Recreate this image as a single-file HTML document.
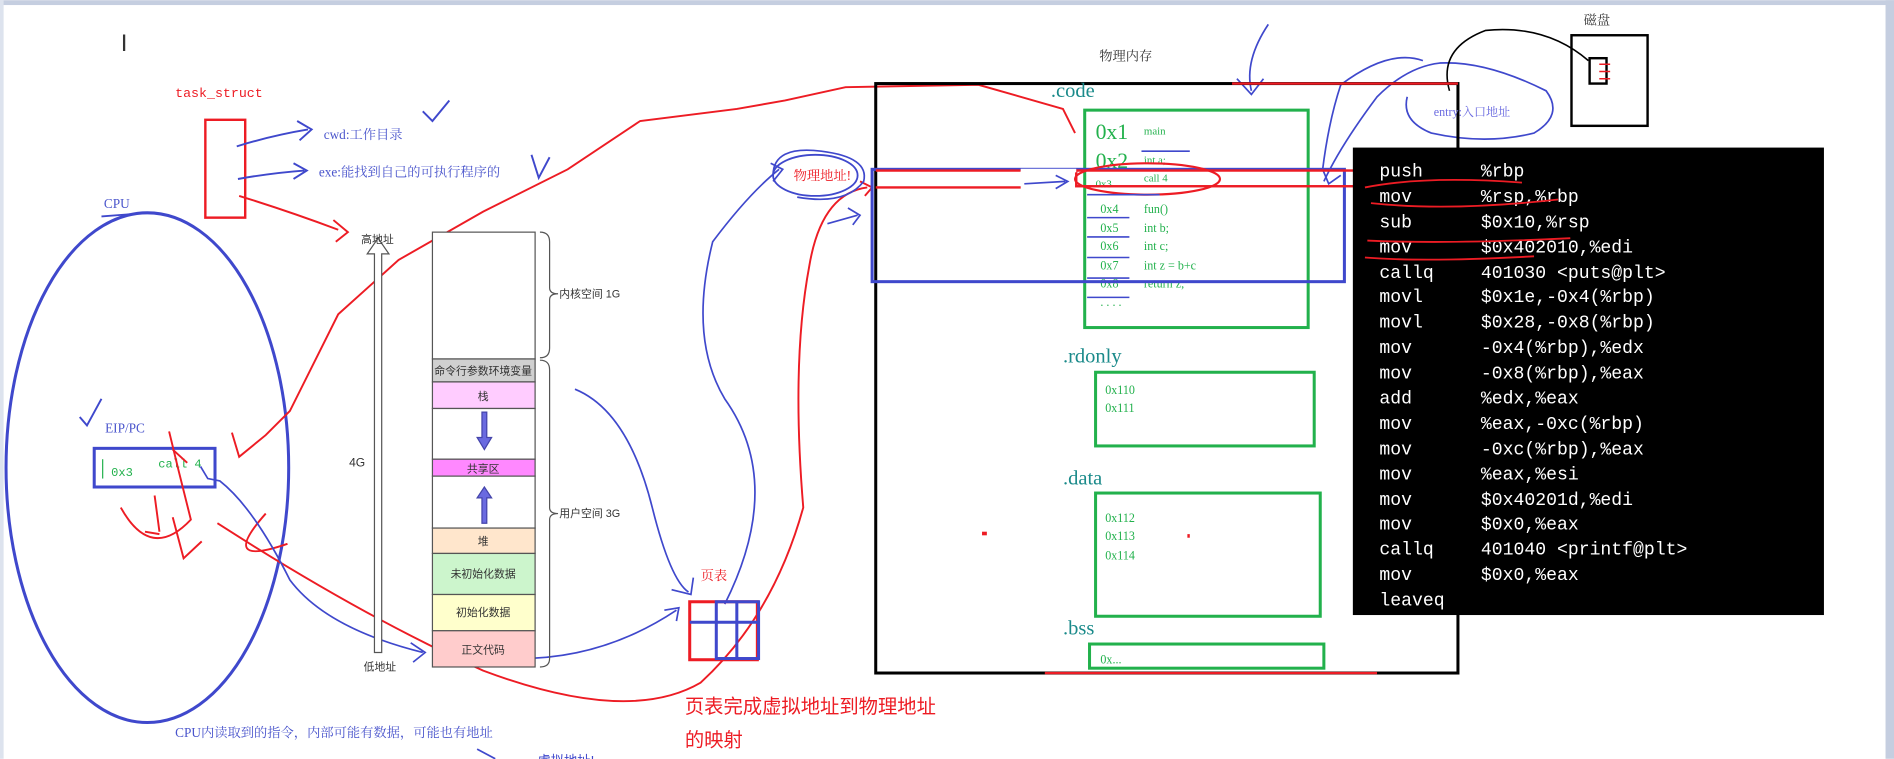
<!DOCTYPE html>
<html><head><meta charset="utf-8"><style>
html,body{margin:0;padding:0;background:#fff;overflow:hidden}
svg{display:block}
.m{font-family:"Liberation Mono","Noto Sans CJK SC",monospace}
.s{font-family:"Liberation Sans","Noto Sans CJK SC",sans-serif}
.sf{font-family:"Liberation Serif","Noto Serif CJK SC",serif}
</style></head><body>
<svg width="1894" height="759" viewBox="0 0 1568 628" xmlns="http://www.w3.org/2000/svg">
<rect width="1568" height="628" fill="#fff"/>
<rect width="1568" height="4" fill="#c5cee0"/>
<rect x="1561" y="0" width="7" height="628" fill="#c5cee0"/>
<rect x="0" y="0" width="3" height="628" fill="#dde3ee"/>
<text x="100" y="42" class="s" font-size="20" fill="#333">I</text>

<!-- task_struct -->
<text x="145" y="80" class="m" font-size="11" fill="#ed1c24">task_struct</text>
<rect x="170" y="99" width="33" height="81" fill="none" stroke="#ed1c24" stroke-width="2"/>
<g fill="none" stroke="#3f48cc" stroke-width="1.6">
<path d="M196 121 Q225 112 255 107 M246 100 L258 107 L248 116"/>
<path d="M197 148 Q225 143 252 141 M243 135 L254 141 L243 148"/>
<path d="M350 92 L358 100 L372 83 M440 128 L446 147 L455 130"/>
</g>
<text x="268" y="115" class="sf" font-size="11" fill="#4a55cc">cwd:工作目录</text>
<text x="264" y="146" class="sf" font-size="11" fill="#4a55cc">exe:能找到自己的可执行程序的</text>
<path d="M198 162 Q240 175 280 190 M276 182 L288 192 L278 200" fill="none" stroke="#ed1c24" stroke-width="1.6"/>

<!-- CPU -->
<text x="86" y="172" class="sf" font-size="11" fill="#4a55cc">CPU</text>
<line x1="84" y1="179" x2="110" y2="177" stroke="#3f48cc" stroke-width="1.5"/>
<ellipse cx="122" cy="387" rx="117" ry="211" fill="none" stroke="#3f48cc" stroke-width="2.5"/>
<text x="87" y="358" class="sf" font-size="11" fill="#4a55cc">EIP/PC</text>
<path d="M66 345 L72 352 L84 330" fill="none" stroke="#3f48cc" stroke-width="1.6"/>
<rect x="78" y="371" width="100" height="32" fill="none" stroke="#3f48cc" stroke-width="2.5"/>
<text x="92" y="394" class="m" font-size="10" fill="#22b14c">0x3</text>
<text x="131" y="387" class="m" font-size="10" fill="#22b14c">call 4</text>
<line x1="85" y1="380" x2="85" y2="396" stroke="#22b14c" stroke-width="1"/>
<g fill="none" stroke="#ed1c24" stroke-width="1.6">
<path d="M140 357 L148 390 L158 430 Q125 465 100 420"/>
<path d="M128 410 L132 440 M120 440 L132 442"/>
<path d="M143 372 L155 383 M167 448 L152 462 L143 428"/>
<path d="M220 425 Q180 470 238 450 M192 358 L198 378 L220 360 L240 340 L280 260 L330 215 L400 175 L470 140 L530 100 L610 90 L650 83 L700 72 L810 70 L880 90 L890 110"/>
<path d="M180 433 Q300 510 400 555 Q520 600 580 565 Q640 510 665 420 Q655 300 670 220 Q680 160 718 155 M712 150 L722 155 L716 162"/>
</g>
<g fill="none" stroke="#3f48cc" stroke-width="1.4">
<path d="M166 386 L172 396 L182 398 Q210 420 240 480 Q270 520 350 540 M340 532 L352 540 L342 548"/>
<path d="M430 545 Q500 545 560 505 M550 505 L562 503 L560 514"/>
<path d="M476 322 Q520 340 540 420 Q555 480 570 490 M556 488 L572 492 L574 478"/>
<path d="M600 500 Q650 400 600 330 Q570 280 590 200 Q620 160 645 140 M638 135 L648 140 L640 150"/>
<path d="M685 185 L710 178 M702 172 L712 178 L706 186"/>
<path d="M640 145 Q640 120 680 125 Q720 130 715 150 Q700 170 660 163"/>
<path d="M848 152 L882 150 M874 145 L884 150 L874 156"/>
<path d="M1050 20 Q1030 50 1036 75 M1024 65 L1036 78 L1046 65"/>
<path d="M1096 150 Q1110 120 1140 80 Q1165 55 1192 52 Q1230 50 1280 75 Q1295 95 1270 110 Q1230 120 1185 110 Q1160 100 1165 80"/>
<path d="M1178 50 Q1150 40 1110 70 Q1100 100 1095 140 L1100 152 L1110 145"/>
<path d="M395 620 L410 628"/>
</g>
<path d="M1200 75 Q1190 40 1230 25 Q1280 20 1315 50" fill="none" stroke="#000" stroke-width="1.3"/>

<!-- address space -->
<path d="M310 540 L310 210 L304 210 L313 197 L322 210 L316 210 L316 540 Z" fill="#fff" stroke="#555" stroke-width="1"/>
<text x="299" y="201" class="s" font-size="9" fill="#333">高地址</text>
<text x="301" y="555" class="s" font-size="9" fill="#333">低地址</text>
<text x="289" y="386" class="s" font-size="10" fill="#333">4G</text>
<g stroke="#555" stroke-width="1" class="s" font-size="9" text-anchor="middle" fill="#333">
<rect x="358" y="192" width="85" height="105" fill="#fff"/>
<rect x="358" y="297" width="85" height="19" fill="#d0d0d0"/><text x="400" y="310" stroke="none">命令行参数环境变量</text>
<rect x="358" y="316" width="85" height="22" fill="#ffccff"/><text x="400" y="331" stroke="none">栈</text>
<rect x="358" y="338" width="85" height="42" fill="#fff"/>
<rect x="358" y="380" width="85" height="14" fill="#ff88ff"/><text x="400" y="391" stroke="none">共享区</text>
<rect x="358" y="394" width="85" height="43" fill="#fff"/>
<rect x="358" y="437" width="85" height="21" fill="#ffe6cc"/><text x="400" y="451" stroke="none">堆</text>
<rect x="358" y="458" width="85" height="34" fill="#ccf5cc"/><text x="400" y="478" stroke="none">未初始化数据</text>
<rect x="358" y="492" width="85" height="30" fill="#ffffcc"/><text x="400" y="510" stroke="none">初始化数据</text>
<rect x="358" y="522" width="85" height="30" fill="#ffcccc"/><text x="400" y="541" stroke="none">正文代码</text>
</g>
<path d="M399 341 L399 362 L395 362 L401 372 L407 362 L403 362 L403 341 Z M399 433 L399 412 L395 412 L401 403 L407 412 L403 412 L403 433 Z" fill="#6a6ae0" stroke="#4444aa"/>
<g fill="none" stroke="#555" stroke-width="1">
<path d="M447 192 Q455 192 455 200 L455 238 Q455 243 462 243 Q455 243 455 248 L455 288 Q455 296 447 296"/>
<path d="M447 298 Q455 298 455 306 L455 420 Q455 425 462 425 Q455 425 455 430 L455 545 Q455 552 447 552"/>
</g>
<text x="463" y="246" class="s" font-size="9" fill="#333">内核空间 1G</text>
<text x="463" y="428" class="s" font-size="9" fill="#333">用户空间 3G</text>

<!-- page table -->
<text x="580" y="480" class="sf" font-size="11" fill="#ed1c24">页表</text>
<rect x="571" y="498" width="56" height="48" fill="none" stroke="#ed1c24" stroke-width="2.5"/>
<rect x="593" y="498" width="35" height="47" fill="none" stroke="#3f48cc" stroke-width="2.5"/>
<line x1="571" y1="515" x2="628" y2="515" stroke="#3f48cc" stroke-width="2.5"/>
<line x1="610" y1="498" x2="610" y2="545" stroke="#3f48cc" stroke-width="2.5"/>
<text x="567" y="590" class="s" font-size="16" fill="#ed1c24">页表完成虚拟地址到物理地址</text>
<text x="567" y="618" class="s" font-size="16" fill="#ed1c24">的映射</text>
<text x="145" y="610" class="sf" font-size="11" fill="#4a55cc">CPU内读取到的指令，内部可能有数据，可能也有地址</text>
<text x="445" y="633" class="s" font-size="11" fill="#3f48cc">虚拟地址!</text>

<!-- physical memory -->
<text x="910" y="50" class="sf" font-size="11" fill="#333">物理内存</text>
<rect x="725" y="69" width="482" height="488" fill="none" stroke="#000" stroke-width="2.5"/>
<line x1="1020" y1="69" x2="1207" y2="69" stroke="#ed1c24" stroke-width="2"/>
<line x1="865" y1="557" x2="1140" y2="557" stroke="#ed1c24" stroke-width="2"/>
<text x="870" y="80" class="sf" font-size="17" fill="#1a8a8a">.code</text>
<rect x="898" y="91" width="185" height="180" fill="none" stroke="#22b14c" stroke-width="2.5"/>
<g class="sf" fill="#22b14c">
<text x="907" y="115" font-size="18">0x1</text><text x="947" y="111" font-size="9">main</text>
<text x="907" y="139" font-size="18">0x2</text><text x="947" y="135" font-size="9">int a;</text>
<text x="907" y="155" font-size="9">0x3</text><text x="947" y="150" font-size="9">call 4</text>
<text x="911" y="176" font-size="10">0x4</text><text x="947" y="176" font-size="10">fun()</text>
<text x="911" y="192" font-size="10">0x5</text><text x="947" y="192" font-size="10">int b;</text>
<text x="911" y="207" font-size="10">0x6</text><text x="947" y="207" font-size="10">int c;</text>
<text x="911" y="223" font-size="10">0x7</text><text x="947" y="223" font-size="10">int z = b+c</text>
<text x="911" y="238" font-size="10">0x8</text><text x="947" y="238" font-size="10">return z;</text>
<text x="911" y="253" font-size="10">. . . .</text>
</g>
<text x="880" y="300" class="sf" font-size="17" fill="#1a8a8a">.rdonly</text>
<rect x="907" y="308" width="181" height="61" fill="none" stroke="#22b14c" stroke-width="2.5"/>
<text x="915" y="326" class="sf" font-size="10" fill="#22b14c">0x110</text>
<text x="915" y="341" class="sf" font-size="10" fill="#22b14c">0x111</text>
<text x="880" y="401" class="sf" font-size="17" fill="#1a8a8a">.data</text>
<rect x="907" y="408" width="186" height="102" fill="none" stroke="#22b14c" stroke-width="2.5"/>
<text x="915" y="432" class="sf" font-size="10" fill="#22b14c">0x112</text>
<text x="915" y="447" class="sf" font-size="10" fill="#22b14c">0x113</text>
<text x="915" y="463" class="sf" font-size="10" fill="#22b14c">0x114</text>
<text x="880" y="525" class="sf" font-size="17" fill="#1a8a8a">.bss</text>
<rect x="902" y="533" width="194" height="20" fill="none" stroke="#22b14c" stroke-width="2.5"/>
<text x="911" y="549" class="sf" font-size="10" fill="#22b14c">0x...</text>
<rect x="983" y="442" width="2" height="3" fill="#ed1c24"/>
<rect x="813" y="440" width="4" height="3" fill="#ed1c24"/>

<!-- mapping bars -->
<rect x="722" y="140" width="391" height="93" fill="none" stroke="#3f48cc" stroke-width="2.5"/>
<line x1="725" y1="141" x2="845" y2="141" stroke="#ed1c24" stroke-width="2"/>
<line x1="725" y1="155" x2="845" y2="155" stroke="#ed1c24" stroke-width="2"/>
<rect x="891" y="141" width="233" height="13" fill="none" stroke="#ed1c24" stroke-width="2"/>
<line x1="845" y1="141" x2="891" y2="141" stroke="#fff" stroke-width="3"/>
<ellipse cx="950" cy="148" rx="60" ry="13" fill="none" stroke="#ed1c24" stroke-width="1.8"/>
<ellipse cx="675" cy="145" rx="35" ry="17" fill="none" stroke="#3f48cc" stroke-width="1.5"/>
<text x="657" y="149" class="sf" font-size="11" fill="#ed1c24">物理地址!</text>
<g fill="none" stroke="#3f48cc" stroke-width="1.3">
<path d="M900 161 H960 M900 180 H935 M900 196 H935 M900 213 H935 M900 230 H935 M900 246 H935 M945 125 H985"/>
</g>

<!-- terminal -->
<rect x="1120" y="122" width="390" height="387" fill="#000"/>
<g class="m" font-size="15" fill="#fff">
<text x="1142" y="146">push</text><text x="1226" y="146">%rbp</text>
<text x="1142" y="167">mov</text><text x="1226" y="167">%rsp,%rbp</text>
<text x="1142" y="188">sub</text><text x="1226" y="188">$0x10,%rsp</text>
<text x="1142" y="209">mov</text><text x="1226" y="209">$0x402010,%edi</text>
<text x="1142" y="230">callq</text><text x="1226" y="230">401030 &lt;puts@plt&gt;</text>
<text x="1142" y="250">movl</text><text x="1226" y="250">$0x1e,-0x4(%rbp)</text>
<text x="1142" y="271">movl</text><text x="1226" y="271">$0x28,-0x8(%rbp)</text>
<text x="1142" y="292">mov</text><text x="1226" y="292">-0x4(%rbp),%edx</text>
<text x="1142" y="313">mov</text><text x="1226" y="313">-0x8(%rbp),%eax</text>
<text x="1142" y="334">add</text><text x="1226" y="334">%edx,%eax</text>
<text x="1142" y="355">mov</text><text x="1226" y="355">%eax,-0xc(%rbp)</text>
<text x="1142" y="376">mov</text><text x="1226" y="376">-0xc(%rbp),%eax</text>
<text x="1142" y="397">mov</text><text x="1226" y="397">%eax,%esi</text>
<text x="1142" y="418">mov</text><text x="1226" y="418">$0x40201d,%edi</text>
<text x="1142" y="438">mov</text><text x="1226" y="438">$0x0,%eax</text>
<text x="1142" y="459">callq</text><text x="1226" y="459">401040 &lt;printf@plt&gt;</text>
<text x="1142" y="480">mov</text><text x="1226" y="480">$0x0,%eax</text>
<text x="1142" y="501">leaveq</text>
</g>
<g fill="none" stroke="#ed1c24" stroke-width="1.5">
<path d="M1130 155 Q1180 145 1260 151 M1135 168 Q1200 175 1290 165 M1132 199 Q1200 202 1300 197 M1130 213 Q1180 217 1270 212"/>
</g>

<!-- disk -->
<text x="1311" y="20" class="sf" font-size="11" fill="#333">磁盘</text>
<rect x="1301" y="29" width="63" height="75" fill="none" stroke="#000" stroke-width="2"/>
<rect x="1316" y="48" width="14" height="21" fill="none" stroke="#000" stroke-width="2"/>
<path d="M1324 53 H1333 M1324 59 H1333 M1324 65 H1333" stroke="#ed1c24" stroke-width="1.2"/>
<text x="1187" y="96" class="sf" font-size="10" fill="#6a6ae0">entry:入口地址</text>
</svg>
</body></html>
